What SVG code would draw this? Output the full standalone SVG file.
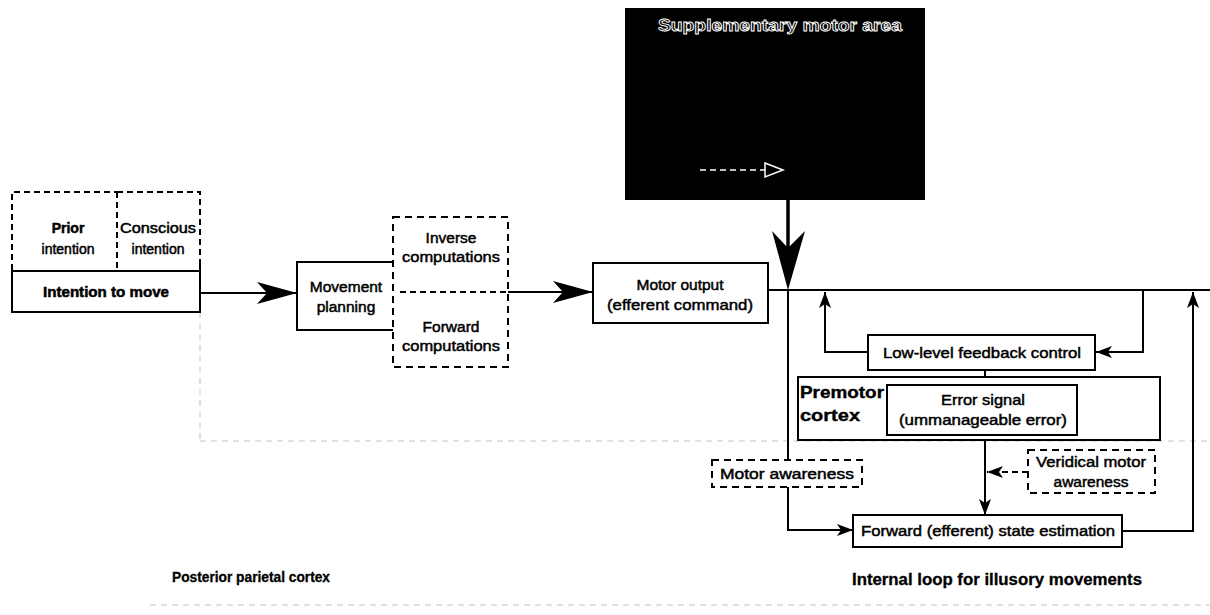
<svg xmlns="http://www.w3.org/2000/svg" width="1210" height="615" viewBox="0 0 1210 615">
  <defs>
    <!-- large barbed head for the main command path -->
    <marker id="bigHead" viewBox="0 0 40 22" refX="40" refY="11" markerWidth="40" markerHeight="22" markerUnits="userSpaceOnUse" orient="auto">
      <path d="M0,0 L40,11 L0,22 L10,11 Z" fill="#000"/>
    </marker>
    <!-- small barbed head for loop connectors -->
    <marker id="smallHead" viewBox="0 0 16 12" refX="16" refY="6" markerWidth="16" markerHeight="12" markerUnits="userSpaceOnUse" orient="auto">
      <path d="M0,0 L16,6 L0,12 L4,6 Z" fill="#000"/>
    </marker>
  </defs>
  <style>
    text { font-family: "Liberation Sans", Arial, sans-serif; fill: #000; }
    .lbl { font-size: 15.5px; text-anchor: middle; stroke: #000; stroke-width: 0.5; }
    .sm { font-size: 14px; text-anchor: middle; stroke: #000; stroke-width: 0.5; }
    .bold { font-weight: bold; }
    .box { fill: #fff; stroke: #000; stroke-width: 2; }
    .dbox { fill: #fff; stroke: #000; stroke-width: 2; stroke-dasharray: 7 5; }
    .wire { fill: none; stroke: #000; stroke-width: 2; }
    .dwire { fill: none; stroke: #000; stroke-width: 2; stroke-dasharray: 6 4; }
    .guide { fill: none; stroke: #c4c4c4; stroke-width: 1; stroke-dasharray: 6 5; }
  </style>

  <rect width="1210" height="615" fill="#fff"/>

  <!-- faint region boundaries -->
  <g id="regions">
    <line class="guide" x1="200" y1="312" x2="200" y2="440"/>
    <line class="guide" x1="200" y1="441" x2="1210" y2="441"/>
    <line class="guide" x1="150" y1="605" x2="1210" y2="605"/>
  </g>

  <!-- connectors -->
  <g id="connectors">
    <line class="wire" x1="200" y1="293" x2="297" y2="293" marker-end="url(#bigHead)"/>
    <line class="wire" x1="508" y1="292" x2="593" y2="292" marker-end="url(#bigHead)"/>
    <line class="wire" x1="768" y1="290" x2="1210" y2="290"/>
    <!-- descending command from the supplementary motor area -->
    <line x1="788" y1="200" x2="788" y2="250" stroke="#000" stroke-width="3.5"/>
    <path d="M788,290 L772,231 L788,248 L805,231 Z" fill="#000"/>
    <!-- efference copy to the forward estimator -->
    <polyline class="wire" points="788,290 788,530 853,530" marker-end="url(#smallHead)"/>
    <!-- low-level feedback loop -->
    <polyline class="wire" points="868,352 825,352 825,292" marker-end="url(#smallHead)"/>
    <polyline class="wire" points="1143,290 1143,352 1096,352" marker-end="url(#smallHead)"/>
    <line class="wire" x1="985" y1="370" x2="985" y2="385"/>
    <line class="wire" x1="985" y1="435" x2="985" y2="515" marker-end="url(#smallHead)"/>
    <line class="dwire" x1="1028" y1="472" x2="987" y2="472" marker-end="url(#smallHead)"/>
    <!-- internal loop back to the command line -->
    <polyline class="wire" points="1122,531 1193,531 1193,292" marker-end="url(#smallHead)"/>
  </g>

  <!-- Supplementary motor area -->
  <g id="sma">
    <rect x="625" y="8" width="300" height="192" fill="#000"/>
    <text x="780" y="31" text-anchor="middle" font-size="17" font-weight="bold" fill="none" stroke="#fff" stroke-width="0.9" textLength="244" lengthAdjust="spacingAndGlyphs">Supplementary motor area</text>
    <line x1="700" y1="170" x2="765" y2="170" stroke="#fff" stroke-width="1.5" stroke-dasharray="6 4"/>
    <path d="M765,163 L783,170 L765,177 Z" fill="none" stroke="#fff" stroke-width="1.5"/>
  </g>

  <!-- Intention nodes -->
  <g id="intention-prior">
    <path class="dwire" d="M12,270 L12,192 L117,192"/>
    <line class="dwire" x1="117" y1="192" x2="117" y2="270"/>
    <text class="sm bold" x="68" y="233">Prior</text>
    <text class="sm" x="68" y="254">intention</text>
  </g>
  <g id="intention-conscious">
    <path class="dwire" d="M117,192 L200,192 L200,270"/>
    <text class="sm" x="158" y="233" textLength="76" lengthAdjust="spacingAndGlyphs">Conscious</text>
    <text class="sm" x="158" y="254">intention</text>
  </g>
  <g id="intention-to-move">
    <rect class="box" x="12" y="271" width="188" height="41"/>
    <line class="wire" x1="12" y1="264" x2="12" y2="271"/>
    <line class="wire" x1="200" y1="264" x2="200" y2="271"/>
    <text class="sm bold" x="106" y="297" textLength="126" lengthAdjust="spacingAndGlyphs">Intention to move</text>
  </g>

  <!-- Movement planning -->
  <g id="movement-planning">
    <rect class="box" x="297" y="262" width="98" height="68"/>
    <text class="lbl" x="346" y="292">Movement</text>
    <text class="lbl" x="346" y="312">planning</text>
  </g>

  <!-- Inverse / forward computations -->
  <g id="computations">
    <rect class="dbox" x="393" y="217" width="115" height="150"/>
    <line class="dwire" x1="400" y1="292" x2="508" y2="292"/>
    <text class="lbl" x="451" y="243">Inverse</text>
    <text class="lbl" x="451" y="262" textLength="98" lengthAdjust="spacingAndGlyphs">computations</text>
    <text class="lbl" x="451" y="332">Forward</text>
    <text class="lbl" x="451" y="351" textLength="98" lengthAdjust="spacingAndGlyphs">computations</text>
  </g>

  <!-- Motor output -->
  <g id="motor-output">
    <rect class="box" x="593" y="263" width="175" height="60"/>
    <text class="lbl" x="680" y="290">Motor output</text>
    <text class="lbl" x="680" y="310" textLength="146" lengthAdjust="spacingAndGlyphs">(efferent command)</text>
  </g>

  <!-- Low-level feedback control -->
  <g id="low-level-feedback">
    <rect class="box" x="868" y="335" width="227" height="35"/>
    <text class="lbl" x="982" y="358" textLength="198" lengthAdjust="spacingAndGlyphs">Low-level feedback control</text>
  </g>

  <!-- Premotor cortex with error signal -->
  <g id="premotor-cortex">
    <rect class="box" x="798" y="377" width="362" height="63"/>
    <text x="800" y="398" font-size="17" font-weight="bold" stroke="#000" stroke-width="0.4" textLength="84" lengthAdjust="spacingAndGlyphs">Premotor</text>
    <text x="800" y="421" font-size="17" font-weight="bold" stroke="#000" stroke-width="0.4" textLength="60" lengthAdjust="spacingAndGlyphs">cortex</text>
  </g>
  <g id="error-signal">
    <rect class="box" x="887" y="385" width="190" height="50"/>
    <text class="lbl" x="983" y="405" textLength="84" lengthAdjust="spacingAndGlyphs">Error signal</text>
    <text class="lbl" x="983" y="425" textLength="168" lengthAdjust="spacingAndGlyphs">(ummanageable error)</text>
  </g>

  <!-- Awareness nodes -->
  <g id="motor-awareness">
    <rect class="dbox" x="712" y="460" width="150" height="27"/>
    <text class="lbl" x="787" y="479" textLength="134" lengthAdjust="spacingAndGlyphs">Motor awareness</text>
  </g>
  <g id="veridical-awareness">
    <rect class="dbox" x="1028" y="450" width="127" height="43"/>
    <text class="lbl" x="1091" y="467" textLength="110" lengthAdjust="spacingAndGlyphs">Veridical motor</text>
    <text class="lbl" x="1091" y="487">awareness</text>
  </g>

  <!-- Forward state estimation -->
  <g id="forward-estimation">
    <rect class="box" x="853" y="515" width="269" height="32"/>
    <text class="lbl" x="988" y="536" textLength="254" lengthAdjust="spacingAndGlyphs">Forward (efferent) state estimation</text>
  </g>

  <!-- region labels -->
  <g id="region-labels">
    <text x="172" y="582" font-size="14" font-weight="bold" stroke="#000" stroke-width="0.3" textLength="158" lengthAdjust="spacingAndGlyphs">Posterior parietal cortex</text>
    <text x="997" y="585" font-size="16" font-weight="bold" text-anchor="middle" stroke="#000" stroke-width="0.3" textLength="290" lengthAdjust="spacingAndGlyphs">Internal loop for illusory movements</text>
  </g>
</svg>
